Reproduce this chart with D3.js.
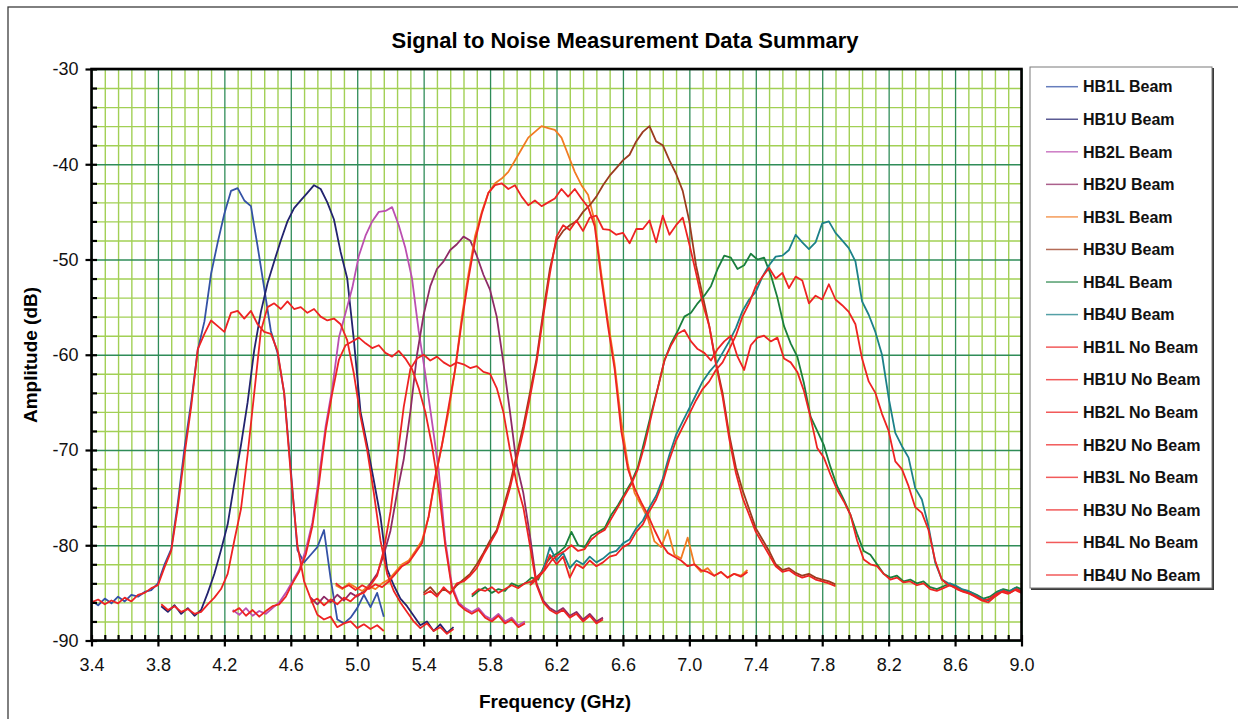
<!DOCTYPE html>
<html>
<head>
<meta charset="utf-8">
<script src="https://cdn.jsdelivr.net/npm/d3@7"></script>
<style>
  body { margin: 0; background: #ffffff; }
  svg { display: block; font-family: "Liberation Sans", Arial, sans-serif; }
</style>
</head>
<body>
<svg id="chart" width="1238" height="719"></svg>
<script>
// ---------------- DATA ----------------
const chartTitle = "Signal to Noise Measurement Data Summary";
const xAxisTitle = "Frequency (GHz)";
const yAxisTitle = "Amplitude (dB)";

const seriesNames = [
  "HB1L Beam", "HB1U Beam", "HB2L Beam", "HB2U Beam",
  "HB3L Beam", "HB3U Beam", "HB4L Beam", "HB4U Beam",
  "HB1L No Beam", "HB1U No Beam", "HB2L No Beam", "HB2U No Beam",
  "HB3L No Beam", "HB3U No Beam", "HB4L No Beam", "HB4U No Beam"
];
// first frequency (GHz) of each trace, same order as seriesNames
const startFreqs = [3.40, 3.82, 4.25, 4.72, 4.87, 5.40, 5.69, 6.04,
                    3.40, 3.82, 4.25, 4.72, 4.87, 5.40, 5.69, 6.04];
const freqStep = 0.04; // GHz between samples

const hb1lBeam = [-85.8,-86.3,-85.6,-86.1,-85.4,-85.9,-85.2,-85.4,-84.9,-84.7,
  -84.0,-82.0,-80.4,-75.5,-69.8,-65.0,-59.5,-56.5,-51.5,-48.2,
  -45.2,-42.8,-42.5,-43.8,-44.4,-48.6,-53.0,-57.5,-59.8,-64.0,
  -72.0,-80.5,-81.8,-81.0,-80.2,-78.4,-83.5,-87.8,-88.2,-87.6,
  -86.6,-85.2,-86.5,-85.0,-87.5];
const hb1uBeam = [-86.4,-87.0,-86.3,-87.2,-86.6,-87.4,-86.8,-85.0,-83.0,-80.5,
  -77.8,-73.5,-69.5,-65.0,-59.5,-55.5,-52.5,-50.2,-48.0,-46.0,
  -44.6,-43.8,-43.0,-42.2,-42.6,-44.0,-45.8,-49.2,-52.0,-58.5,
  -66.0,-69.5,-73.2,-77.0,-82.5,-84.2,-85.6,-86.4,-87.4,-88.4,
  -88.0,-89.0,-88.3,-89.2,-88.6];
const hb2lBeam = [-86.8,-87.3,-86.6,-87.4,-86.9,-87.2,-86.6,-86.0,-85.0,-83.8,
  -82.6,-80.5,-77.6,-72.8,-67.5,-63.5,-58.2,-55.6,-53.0,-49.6,
  -47.5,-46.0,-45.0,-44.9,-44.5,-46.4,-48.8,-52.0,-57.5,-62.0,
  -67.0,-72.0,-79.5,-84.2,-86.0,-86.6,-87.0,-86.6,-87.4,-87.8,
  -87.2,-88.0,-87.6,-88.4,-88.0];
const hb2uBeam = [-85.5,-86.2,-85.4,-86.0,-85.2,-85.8,-85.0,-85.4,-84.8,-84.0,
  -83.0,-81.0,-78.5,-74.5,-71.0,-66.0,-60.0,-55.8,-52.8,-51.0,
  -50.2,-49.0,-48.4,-47.6,-48.0,-49.6,-51.6,-53.2,-56.0,-60.8,
  -66.0,-71.5,-74.5,-79.0,-84.0,-85.8,-86.6,-87.0,-86.6,-87.4,
  -87.0,-87.8,-87.2,-88.0,-87.6];
const hb3lBeam = [-84.2,-84.6,-84.0,-84.4,-84.8,-84.3,-84.6,-84.0,-83.6,-82.8,
  -82.0,-81.6,-80.6,-79.5,-77.0,-73.0,-69.5,-66.0,-61.5,-56.0,
  -51.5,-47.5,-45.0,-43.0,-42.0,-41.5,-40.8,-39.6,-38.4,-37.2,
  -36.6,-36.0,-36.2,-36.4,-37.2,-39.0,-40.8,-42.2,-43.2,-46.0,
  -51.5,-56.5,-61.0,-67.0,-71.5,-74.5,-75.8,-77.2,-79.6,-80.2,
  -78.4,-81.0,-81.4,-79.2,-82.0,-82.8,-82.4,-83.2,-82.8,-83.4,
  -83.0,-83.2,-82.6];
const hb3uBeam = [-85.0,-84.4,-85.2,-84.6,-85.0,-84.2,-83.6,-83.0,-82.0,-80.8,
  -79.5,-78.4,-76.0,-73.6,-70.5,-67.5,-64.0,-60.4,-55.5,-51.0,
  -48.0,-47.0,-46.4,-46.0,-45.0,-44.3,-43.4,-42.2,-41.2,-40.4,
  -39.6,-39.0,-37.6,-36.6,-36.0,-37.6,-38.0,-39.6,-41.0,-42.8,
  -46.0,-50.6,-53.8,-57.0,-60.8,-64.0,-68.4,-71.8,-74.2,-76.2,
  -78.2,-79.4,-80.6,-82.0,-82.6,-82.4,-82.9,-83.2,-83.0,-83.4,
  -83.6,-83.8,-84.1];
const hb4lBeam = [-85.4,-84.8,-84.4,-85.0,-84.6,-84.8,-84.0,-84.3,-84.0,-83.4,
  -83.6,-82.0,-81.2,-80.8,-80.2,-78.6,-80.0,-80.2,-79.0,-78.6,
  -78.2,-76.8,-75.8,-74.6,-73.4,-71.8,-69.0,-66.2,-63.5,-60.6,
  -58.8,-57.5,-56.0,-55.6,-54.6,-53.8,-52.8,-51.0,-49.6,-49.8,
  -51.0,-50.6,-49.4,-50.0,-49.8,-51.6,-54.0,-57.0,-58.8,-60.2,
  -63.0,-66.5,-68.0,-69.5,-71.8,-73.8,-75.2,-76.8,-78.8,-80.6,
  -81.0,-82.0,-83.0,-83.4,-83.2,-83.8,-83.6,-84.0,-83.8,-84.4,
  -84.6,-84.3,-84.0,-84.4,-84.7,-84.9,-85.2,-85.6,-85.4,-84.9,
  -84.6,-84.8,-84.4,-84.7];
const hb4uBeam = [-84.0,-83.4,-82.6,-80.2,-81.6,-80.8,-82.4,-81.6,-82.0,-81.2,
  -81.8,-81.4,-80.8,-80.6,-79.8,-79.4,-78.2,-77.4,-76.0,-74.8,
  -73.0,-70.5,-68.4,-67.0,-65.6,-64.2,-62.8,-61.8,-61.0,-59.8,
  -58.6,-57.2,-55.4,-54.2,-53.4,-51.8,-50.6,-49.7,-49.6,-49.0,
  -47.4,-48.2,-48.9,-48.2,-46.2,-46.0,-47.2,-48.0,-48.8,-50.2,
  -54.4,-55.8,-57.6,-60.0,-64.5,-68.2,-69.6,-70.8,-74.0,-75.2,
  -78.0,-81.8,-83.6,-84.0,-84.2,-84.6,-84.8,-85.2,-85.6,-85.8,
  -85.2,-84.7,-84.9,-84.5,-84.8];

const hb1lNoBeam = [-86.0,-85.7,-86.2,-85.8,-86.1,-85.5,-85.9,-85.2,-85.0,-84.5,
  -84.2,-82.3,-80.6,-76.0,-70.5,-65.5,-59.4,-57.8,-56.4,-57.0,
  -57.6,-55.6,-55.4,-56.2,-55.4,-56.8,-57.6,-57.8,-59.6,-64.0,
  -72.5,-80.0,-83.8,-85.6,-87.3,-87.8,-87.5,-88.6,-88.2,-88.0,
  -88.7,-88.3,-88.8,-88.4,-89.0];
const hb1uNoBeam = [-86.2,-86.8,-86.4,-87.0,-86.7,-87.2,-87.0,-86.2,-85.5,-84.6,
  -83.0,-79.5,-76.2,-70.5,-64.0,-57.5,-55.0,-54.6,-55.2,-54.4,
  -55.2,-55.0,-55.6,-55.2,-56.0,-56.4,-56.2,-56.8,-58.5,-62.0,
  -66.5,-70.0,-74.5,-79.5,-83.0,-84.8,-86.0,-87.0,-88.0,-88.7,
  -88.2,-89.0,-88.6,-89.3,-88.8];
const hb2lNoBeam = [-87.0,-86.6,-87.4,-86.8,-87.5,-86.9,-86.4,-86.2,-85.4,-84.0,
  -82.8,-81.0,-78.0,-73.5,-68.0,-64.0,-60.5,-59.0,-58.6,-58.2,
  -58.8,-59.3,-59.0,-59.8,-60.2,-59.6,-60.4,-61.5,-63.5,-66.0,
  -69.5,-74.0,-80.0,-84.5,-86.2,-86.8,-87.2,-86.8,-87.6,-88.0,
  -87.4,-88.2,-87.8,-88.6,-88.2];
const hb2uNoBeam = [-86.0,-85.6,-86.3,-85.7,-86.2,-85.5,-85.9,-85.2,-85.0,-84.2,
  -83.2,-80.5,-76.5,-71.0,-65.5,-61.5,-60.4,-60.0,-60.6,-60.2,
  -60.8,-61.2,-60.8,-61.0,-61.4,-61.2,-61.8,-62.0,-63.5,-66.0,
  -70.0,-73.5,-76.0,-80.0,-84.2,-86.0,-86.8,-87.2,-86.8,-87.6,
  -87.2,-88.0,-87.4,-88.2,-87.8];
const hb3lNoBeam = [-84.0,-84.5,-84.2,-84.7,-84.2,-84.6,-84.1,-84.4,-83.8,-83.0,
  -82.2,-81.8,-80.8,-79.8,-77.0,-72.8,-69.5,-65.5,-61.5,-56.5,
  -52.0,-48.0,-45.2,-43.0,-42.2,-42.0,-42.6,-42.2,-43.4,-44.3,
  -43.8,-44.4,-44.0,-43.6,-42.6,-43.4,-42.6,-43.6,-44.5,-46.5,
  -52.0,-57.0,-61.5,-68.0,-72.0,-74.0,-75.5,-76.8,-78.4,-79.8,
  -80.8,-81.2,-81.6,-82.2,-82.0,-82.6,-82.8,-83.2,-82.8,-83.4,
  -83.0,-83.3,-82.8];
const hb3uNoBeam = [-85.2,-84.8,-85.4,-84.4,-85.1,-84.0,-83.8,-83.2,-82.4,-81.0,
  -79.8,-78.6,-76.4,-74.0,-71.0,-68.0,-64.5,-60.8,-56.0,-51.5,
  -47.6,-46.4,-46.9,-45.9,-47.0,-45.6,-45.4,-46.8,-46.9,-47.4,
  -47.2,-48.3,-46.8,-46.8,-45.9,-48.2,-45.4,-47.4,-46.4,-45.6,
  -48.4,-51.4,-54.6,-57.0,-61.0,-64.4,-68.8,-72.4,-75.0,-76.8,
  -78.6,-79.8,-81.0,-82.2,-82.8,-82.6,-83.1,-83.4,-83.2,-83.6,
  -83.8,-84.0,-84.3];
const hb4lNoBeam = [-85.2,-84.6,-84.8,-84.4,-85.0,-84.6,-84.2,-84.5,-84.0,-83.8,
  -83.2,-82.6,-81.6,-81.0,-80.6,-80.0,-80.6,-80.4,-79.4,-78.8,
  -78.4,-77.2,-76.0,-74.8,-73.6,-72.0,-69.5,-66.5,-63.5,-60.6,
  -59.0,-57.8,-57.4,-58.6,-59.4,-59.8,-60.6,-59.4,-58.6,-58.0,
  -60.2,-61.6,-59.0,-58.2,-58.0,-58.6,-58.2,-60.4,-60.8,-61.8,
  -63.8,-66.6,-69.8,-70.8,-72.6,-74.2,-75.4,-76.8,-79.5,-81.5,
  -82.0,-82.2,-83.0,-83.6,-83.4,-83.9,-83.8,-84.2,-84.0,-84.6,
  -84.8,-84.5,-84.2,-84.6,-84.9,-85.1,-85.4,-85.8,-85.6,-85.1,
  -84.8,-85.0,-84.6,-84.9];
const hb4uNoBeam = [-84.2,-83.6,-82.8,-81.0,-82.0,-81.2,-83.4,-82.0,-82.4,-81.6,
  -82.2,-81.8,-81.2,-81.0,-80.2,-79.8,-78.6,-77.8,-76.4,-75.2,
  -73.4,-71.0,-69.0,-67.6,-66.2,-64.8,-63.6,-62.8,-61.6,-60.8,
  -59.4,-58.0,-56.0,-54.6,-52.8,-51.8,-50.9,-52.0,-51.4,-53.0,
  -51.8,-52.2,-54.6,-53.8,-54.2,-52.6,-54.2,-54.8,-55.5,-56.8,
  -60.4,-62.8,-64.0,-66.2,-68.0,-71.2,-72.0,-73.8,-76.0,-76.6,
  -78.4,-81.6,-83.6,-84.2,-84.4,-84.8,-85.0,-85.4,-85.8,-86.0,
  -85.4,-84.9,-85.1,-84.7,-85.0];

const seriesValues = [hb1lBeam, hb1uBeam, hb2lBeam, hb2uBeam, hb3lBeam, hb3uBeam, hb4lBeam, hb4uBeam,
  hb1lNoBeam, hb1uNoBeam, hb2lNoBeam, hb2uNoBeam, hb3lNoBeam, hb3uNoBeam, hb4lNoBeam, hb4uNoBeam];

const xTicks = [3.4, 3.8, 4.2, 4.6, 5.0, 5.4, 5.8, 6.2, 6.6, 7.0, 7.4, 7.8, 8.2, 8.6, 9.0];
const xTickLabels = ["3.4","3.8","4.2","4.6","5.0","5.4","5.8","6.2","6.6","7.0","7.4","7.8","8.2","8.6","9.0"];
const yTicks = [-30, -40, -50, -60, -70, -80, -90];
const yTickLabels = ["-30","-40","-50","-60","-70","-80","-90"];
const xDomain = [3.4, 9.0];
const yDomain = [-90, -30];
const xMinorStep = 0.08;
const yMinorStep = 2;

// ---------------- STYLE ----------------
const seriesColors = ["#3452a6", "#23236f", "#bb4fb1", "#8f2b66", "#f27b22", "#9b3b1f", "#1a7f3e", "#1c8189",
  "#ee2323", "#ee2323", "#ee2323", "#ee2323", "#ee2323", "#ee2323", "#ee2323", "#ee2323"];

const W = 1238, H = 719;
const plot = { left: 91.5, right: 1021.5, top: 69, bottom: 640.5 };

const svg = d3.select("#chart");
svg.append("rect").attr("width", W).attr("height", H).attr("fill", "#fff");
// outer chart border
svg.append("rect").attr("x", 8).attr("y", 7).attr("width", W + 10).attr("height", H + 10)
  .attr("fill", "none").attr("stroke", "#3c3c3c").attr("stroke-width", 1.3);

const x = d3.scaleLinear().domain(xDomain).range([plot.left, plot.right]);
const y = d3.scaleLinear().domain(yDomain).range([plot.bottom, plot.top]);

const nMinorX = Math.round((xDomain[1] - xDomain[0]) / xMinorStep);
const minorXAll = d3.range(nMinorX + 1).map(i => xDomain[0] + i * xMinorStep);
const minorX = minorXAll.filter((d, i) => i % 5 !== 0);
const nMinorY = Math.round((yDomain[1] - yDomain[0]) / yMinorStep);
const minorYAll = d3.range(nMinorY + 1).map(i => yDomain[0] + i * yMinorStep);
const minorY = minorYAll.filter((d, i) => i % 5 !== 0);

const plotH = plot.bottom - plot.top, plotW = plot.right - plot.left;

// minor grid
const gridMinor = svg.append("g");
gridMinor.append("g").attr("transform", `translate(0,${plot.bottom})`)
  .call(d3.axisBottom(x).tickValues(minorX).tickSize(-plotH).tickFormat(""));
gridMinor.append("g").attr("transform", `translate(${plot.left},0)`)
  .call(d3.axisLeft(y).tickValues(minorY).tickSize(-plotW).tickFormat(""));
gridMinor.selectAll(".domain").remove();
gridMinor.selectAll("line").attr("stroke", "#a2d055").attr("stroke-width", 1.4);

// major grid
const gridMajor = svg.append("g");
gridMajor.append("g").attr("transform", `translate(0,${plot.bottom})`)
  .call(d3.axisBottom(x).tickValues(xTicks).tickSize(-plotH).tickFormat(""));
gridMajor.append("g").attr("transform", `translate(${plot.left},0)`)
  .call(d3.axisLeft(y).tickValues(yTicks).tickSize(-plotW).tickFormat(""));
gridMajor.selectAll(".domain").remove();
gridMajor.selectAll("line").attr("stroke", "#2f8c58").attr("stroke-width", 1.3);

// traces
svg.append("clipPath").attr("id", "clip").append("rect")
  .attr("x", plot.left).attr("y", plot.top).attr("width", plotW).attr("height", plotH);
const line = d3.line().x(d => x(d.f)).y(d => y(d.v));
const traces = svg.append("g").attr("clip-path", "url(#clip)");
seriesValues.forEach((vals, si) => {
  const pts = vals.map((v, i) => ({ f: startFreqs[si] + i * freqStep, v }));
  traces.append("path").datum(pts)
    .attr("d", line)
    .attr("fill", "none")
    .attr("stroke", seriesColors[si])
    .attr("stroke-width", 1.8)
    .attr("stroke-linejoin", "round");
});

// plot frame
svg.append("rect").attr("x", plot.left).attr("y", plot.top).attr("width", plotW).attr("height", plotH)
  .attr("fill", "none").attr("stroke", "#000").attr("stroke-width", 2.6);

// axes: inner ticks (all), outer major ticks + labels
const axisFont = (g) => g.selectAll("text").attr("font-size", 18).attr("fill", "#111")
  .attr("font-family", '"Liberation Sans", Arial, sans-serif');

const xInner = svg.append("g").attr("transform", `translate(0,${plot.bottom})`)
  .call(d3.axisTop(x).tickValues(minorXAll).tickSize(5.5).tickFormat(""));
const xOuter = svg.append("g").attr("transform", `translate(0,${plot.bottom})`)
  .call(d3.axisBottom(x).tickValues(xTicks).tickSize(6).tickPadding(12)
    .tickFormat((d, i) => xTickLabels[i]));
const yInner = svg.append("g").attr("transform", `translate(${plot.left},0)`)
  .call(d3.axisRight(y).tickValues(minorYAll).tickSize(5.5).tickFormat(""));
const yOuter = svg.append("g").attr("transform", `translate(${plot.left},0)`)
  .call(d3.axisLeft(y).tickValues(yTicks).tickSize(6).tickPadding(7)
    .tickFormat((d, i) => yTickLabels[i]));
[xInner, xOuter, yInner, yOuter].forEach(g => {
  g.select(".domain").remove();
  g.selectAll("line").attr("stroke", "#000").attr("stroke-width", 2.2);
  axisFont(g);
});

// titles
svg.append("text").attr("x", 625).attr("y", 48).attr("text-anchor", "middle")
  .attr("font-size", 22).attr("font-weight", "bold").attr("fill", "#000").text(chartTitle);
svg.append("text").attr("x", 555).attr("y", 708).attr("text-anchor", "middle")
  .attr("font-size", 19).attr("font-weight", "bold").attr("fill", "#000").text(xAxisTitle);
svg.append("text").attr("transform", "translate(37,355) rotate(-90)").attr("text-anchor", "middle")
  .attr("font-size", 19).attr("font-weight", "bold").attr("fill", "#000").text(yAxisTitle);

// legend
const lg = svg.append("g");
lg.append("rect").attr("x", 1031).attr("y", 68).attr("width", 183).attr("height", 522)
  .attr("fill", "#3a3a3a");
lg.append("rect").attr("x", 1030).attr("y", 67).attr("width", 182).attr("height", 521)
  .attr("fill", "#fff").attr("stroke", "#7a7a7a").attr("stroke-width", 1);
const rowY = d3.scaleLinear().domain([0, seriesNames.length - 1]).range([86.7, 575]);
seriesNames.forEach((name, i) => {
  lg.append("line").attr("x1", 1046).attr("x2", 1078).attr("y1", rowY(i)).attr("y2", rowY(i))
    .attr("stroke", seriesColors[i]).attr("stroke-width", 1.5).attr("opacity", 0.75);
  lg.append("text").attr("x", 1083).attr("y", rowY(i)).attr("dy", "0.36em")
    .attr("font-size", 16).attr("font-weight", "bold").attr("fill", "#111").text(name);
});
</script>
</body>
</html>
